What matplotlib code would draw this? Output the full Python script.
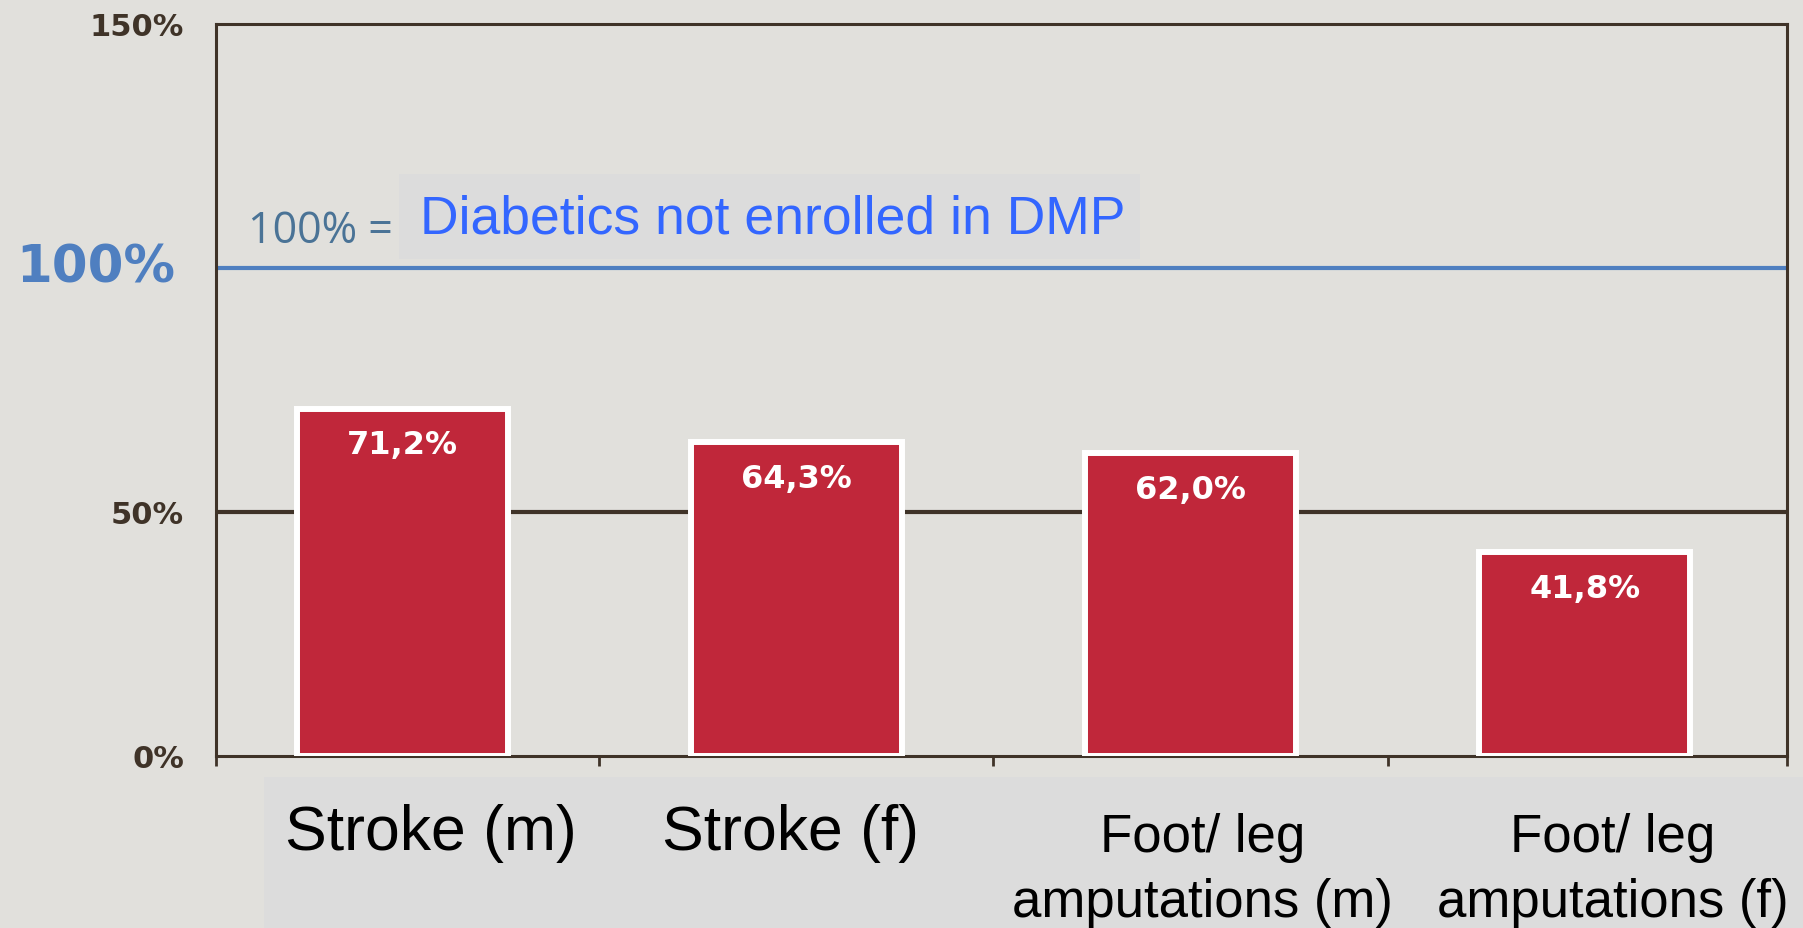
import matplotlib
matplotlib.use("Agg")
import matplotlib.pyplot as plt
from matplotlib.patches import Rectangle

# data
categories = ["Stroke (m)", "Stroke (f)", "Foot/ leg\namputations (m)", "Foot/ leg\namputations (f)"]
values = [71.2, 64.3, 62.0, 41.8]
value_labels = ["71,2%", "64,3%", "62,0%", "41,8%"]
ytick_vals = [0, 50, 150]
ytick_labels = ["0%", "50%", "150%"]
ref_value = 100
ref_text = "Diabetics not enrolled in DMP"

bg = "#e1e0dc"
box = "#dcdcdc"
brown = "#3f3328"
red = "#c0273a"
blue = "#4f7fc0"

fig = plt.figure(figsize=(18.03, 9.29), dpi=100, facecolor=bg)
ax = fig.add_axes([216/1803, 1-757/929, (1787-216)/1803, (757-25)/929])
ax.set_facecolor(bg)

x = list(range(len(categories)))
ax.bar(x, values, width=0.535, color=red, edgecolor="white", linewidth=4.3, zorder=3)

ax.axhline(50, color=brown, lw=3, zorder=1)
ax.axhline(ref_value, color=blue, lw=3, zorder=1)

for xi, v, lab in zip(x, values, value_labels):
    ax.annotate(lab, (xi, v), xytext=(0, -26), textcoords="offset points",
                ha="center", va="center", color="white", fontsize=23,
                fontweight="bold", family="DejaVu Sans", zorder=4)

ax.set_xlim(-0.472, 3.513)
ax.set_ylim(0, 150)

for s in ax.spines.values():
    s.set_color(brown)
    s.set_linewidth(2.2)

ax.set_yticks(ytick_vals)
ax.set_yticklabels(ytick_labels, fontsize=22, color=brown, family="DejaVu Sans", fontweight="bold")
ax.tick_params(axis="y", length=0, pad=23)
ax.set_xticks([-0.472, 0.5, 1.5, 2.5, 3.513])
ax.set_xticklabels([])
ax.tick_params(axis="x", length=7, width=2, color=brown, direction="out")

ax.text(-0.026, ref_value, "100%", transform=ax.get_yaxis_transform(), ha="right", va="center",
        fontsize=37, fontweight="bold", color=blue, family="DejaVu Sans")

# boxes behind texts
fig.patches.append(Rectangle((264/1803, 0), 1-264/1803, (929-778)/929, transform=fig.transFigure,
                             facecolor=box, edgecolor="none", zorder=-1))
ax.add_patch(Rectangle((399/1803, 1-260/929), 741/1803, 85/929, transform=fig.transFigure,
                       facecolor=box, edgecolor="none", zorder=0.5))

fig.text(248/1803, 1-232/929, "100% =", ha="left", va="center", fontsize=31,
         color="#4a7396", family="Open Sans")
fig.text(420/1803, 1-219/929, ref_text, ha="left", va="center", fontsize=38.5,
         color="#3366ff", family="Liberation Sans")

# category labels
label_dx = [0.074, -0.015, 0.03, 0.07]
label_y = [-0.105, -0.105, -0.155, -0.155]
label_size = [45, 45, 38, 38]
for xi, cat, dx, ly, fs in zip(x, categories, label_dx, label_y, label_size):
    ax.text(xi + dx, ly, cat, transform=ax.get_xaxis_transform(), ha="center", va="center",
            multialignment="center", fontsize=fs, color="black", family="Liberation Sans",
            linespacing=1.37, clip_on=False)

fig.savefig("out.png", dpi=100, facecolor=bg)
